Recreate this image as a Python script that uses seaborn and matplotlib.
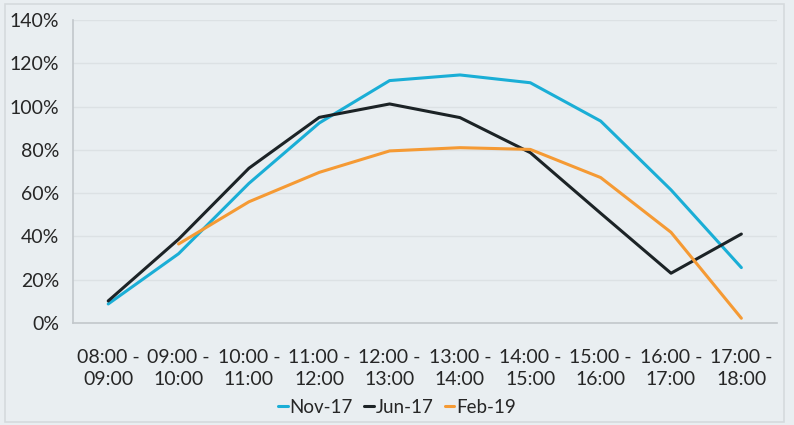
import matplotlib
matplotlib.use('Agg')
from matplotlib import pyplot as plt
from matplotlib import ticker as ticker
from matplotlib.patches import Rectangle
import numpy as np
import pandas as pd
import seaborn as sns

sns.set_style('white')
plt.rcParams['font.family'] = ['Lato', 'DejaVu Sans']

slots = ['08:00 -\n09:00', '09:00 -\n10:00', '10:00 -\n11:00', '11:00 -\n12:00', '12:00 -\n13:00',
         '13:00 -\n14:00', '14:00 -\n15:00', '15:00 -\n16:00', '16:00 -\n17:00', '17:00 -\n18:00']
nov17 = [8.8, 32, 64.5, 92.4, 112, 114.6, 111, 93.3, 61.5, 25.6]
jun17 = [10.2, 38.7, 71.5, 95, 101.2, 94.9, 78.7, 50.7, 23, 41.1]
feb19 = [np.nan, 36.5, 56, 69.6, 79.5, 81, 80.2, 67.2, 41.9, 2.2]
series = ['Nov-17', 'Jun-17', 'Feb-19']
colors = ['#1aaed6', '#1c2326', '#f59a34']

rows = []
for name, vals in zip(series, [nov17, jun17, feb19]):
    for i, v in enumerate(vals):
        rows.append({'slot': i, 'value': v / 100, 'series': name})
df = pd.DataFrame(rows).dropna()

bg = '#e9eef1'
fig = plt.figure(figsize=(7.94, 4.25), dpi=100, facecolor=bg)
ax = fig.add_axes([0.092, 0.24, 0.886, 0.713])
ax.set_facecolor(bg)

sns.lineplot(x='slot', y='value', hue='series', hue_order=series,
             palette=dict(zip(series, colors)), data=df, ax=ax,
             linewidth=2.2, sort=False, estimator=None)

ax.set(xlim=(-0.5, 9.5), ylim=(0, 1.4))
ax.yaxis.set_major_locator(ticker.MultipleLocator(0.2))
ax.yaxis.set_major_formatter(ticker.FuncFormatter(lambda v, p: '{:.0f}%'.format(v * 100)))
ax.set_xticks(range(len(slots)))
ax.set_xticklabels(slots, linespacing=1.35)
ax.set_xticks(np.arange(-0.5, 10, 1), minor=True)
ax.tick_params(axis='x', which='major', length=0, pad=19, labelsize=14, colors='#262626')
ax.tick_params(axis='x', which='minor', length=6, color='#c2c7cb', width=1)
ax.tick_params(axis='y', which='major', length=5, color='#c2c7cb', labelsize=14, colors='#262626', pad=5)
ax.grid(True, axis='y', color='#dce1e4', linewidth=1)
ax.set_axisbelow(True)
for s in ['top', 'right']:
    ax.spines[s].set_visible(False)
for s in ['left', 'bottom']:
    ax.spines[s].set_color('#c2c7cb')
    ax.spines[s].set_linewidth(1.2)
ax.set(xlabel='', ylabel='')

handles, labels = ax.get_legend_handles_labels()
leg = ax.legend(handles=handles, labels=labels, loc='center', bbox_to_anchor=(0.5, 0.042),
                bbox_transform=fig.transFigure, ncol=3, frameon=False, fontsize=13.5,
                handlelength=0.5, handletextpad=0.1, columnspacing=0.6)
for t in leg.get_texts():
    t.set_color('#262626')

fig.patches.append(Rectangle((0.006, 0.007), 0.982, 0.983, transform=fig.transFigure,
                             fill=False, edgecolor='#d5dadd', linewidth=1.2))

plt.savefig('out.png', dpi=100, facecolor=bg)
